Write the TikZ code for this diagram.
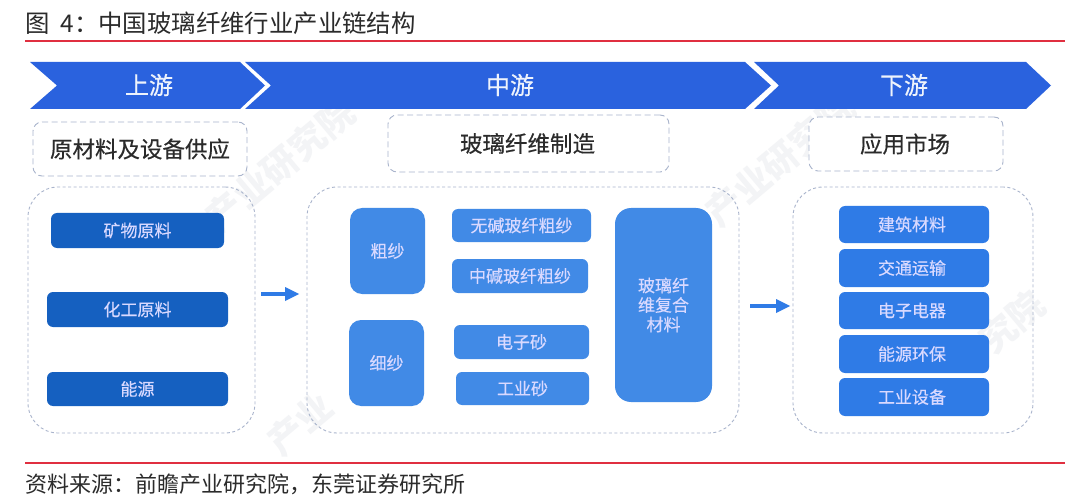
\documentclass[tikz,border=0pt]{standalone}
\usepackage{fontspec}
\usetikzlibrary{arrows.meta}
\newfontfamily\cjk{Noto Sans CJK SC}
\newfontfamily\cjkm[FakeBold=0.35]{Noto Sans CJK SC}
\definecolor{band}{HTML}{2A62DE}
\definecolor{upbox}{HTML}{1560C0}
\definecolor{midbox}{HTML}{418AE6}
\definecolor{rightbox}{HTML}{2F7BE6}
\definecolor{dashc}{HTML}{A9B4CC}
\definecolor{rulecol}{HTML}{E02F40}
\definecolor{ink}{HTML}{2B2B2B}
\definecolor{wmcol}{HTML}{F3F4F6}
\tikzset{
  x=1pt,y=-1pt,
  bandshape/.style={fill=band,draw=none},
  bandlabel/.style={font=\cjkm\fontsize{24}{24}\selectfont,text=white!92!band,inner sep=0},
  headbox/.style={draw=dashc,line width=.9pt,dash pattern=on 6pt off 3.5pt,rounded corners=9pt,fill=white,inner sep=0,outer sep=0,font=\cjkm\fontsize{22.5}{22.5}\selectfont,text=ink},
  bigbox/.style={draw=dashc,line width=.9pt,dash pattern=on 3pt off 2.5pt,rounded corners=30pt,inner sep=0,outer sep=0},
  itembox/.style={rounded corners=6pt,inner sep=0,outer sep=0,font=\cjkm\fontsize{17}{19.5}\selectfont,text=white!85!blue},
  upitem/.style={itembox,fill=upbox},
  miditem/.style={itembox,fill=midbox},
  rightitem/.style={itembox,fill=rightbox},
  flowline/.style={draw=rightbox,line width=3.4pt,shorten >=8pt},
  flowhead/.style={fill=rightbox,draw=none},
  rulerline/.style={draw=rulecol,line width=1.1pt},
  plain/.style={inner sep=0,anchor=west,text=ink},
  wmark/.style={inner sep=0,text=wmcol,font=\cjk\bfseries\fontsize{36}{36}\selectfont,rotate=40},
}
% box helper: name, x0, y0, x1, y1, style, text
\newcommand{\pbox}[7]{\node[#6,minimum width=#4pt-#2pt,minimum height=#5pt-#3pt] (#1) at ({(#2+#4)/2},{(#3+#5)/2}) {#7};}
\newcommand{\dn}[1]{\raisebox{-2.3pt}{#1}}
\begin{document}
\begin{tikzpicture}
\useasboundingbox (0,0) rectangle (1080,500);
\fill[white] (0,0) rectangle (1080,500);
% watermarks
\node[wmark] (wa) at (280,165) {产业研究院};
\node[wmark] (wb) at (780,160) {产业研究院};
\node[wmark] (wc) at (300,424) {产业};
\node[wmark] (wd) at (1012,322) {究院};
% title
\node[plain,font=\cjk\fontsize{24.4}{24.4}\selectfont] (title) at (25,23) {图\hspace{11pt}4：中国玻璃纤维行业产业链结构};
\coordinate (r1a) at (25,41); \coordinate (r1b) at (1065,41);
\draw[rulerline] (r1a) -- (r1b);
% chevrons
\fill[bandshape] (30,62) -- (240,62) -- (265,85.5) -- (240,109) -- (30,109) -- (57,85.5) -- cycle;
\fill[bandshape] (245,62) -- (745,62) -- (771,85.5) -- (745,109) -- (245,109) -- (271,85.5) -- cycle;
\fill[bandshape] (754,62) -- (1026,62) -- (1051,85.5) -- (1026,109) -- (754,109) -- (779,85.5) -- cycle;
\node[bandlabel] (l1) at (149,85) {上游};
\node[bandlabel] (l2) at (510,85) {中游};
\node[bandlabel] (l3) at (904,85) {下游};
% headers
\pbox{h1}{33}{122}{247}{176}{headbox}{原材料及设备供应}
\pbox{h2}{388}{115}{669}{172}{headbox}{\hspace*{-2pt}玻璃纤维制造}
\pbox{h3}{809}{117}{1003}{171}{headbox}{\hspace*{-2pt}应用市场}
% groups
\pbox{g1}{28}{187}{255}{433}{bigbox}{}
\pbox{g2}{307}{187}{739}{433}{bigbox}{}
\pbox{g3}{793}{187}{1033}{433}{bigbox}{}
% upstream
\pbox{a1}{51}{213}{224}{248}{upitem}{\dn{矿物原料}}
\pbox{a2}{47}{292}{228}{327}{upitem}{\dn{化工原料}}
\pbox{a3}{47}{372}{228}{406}{upitem}{\dn{能源}}
% midstream
\pbox{b1}{350}{208}{425}{294}{miditem,rounded corners=12pt}{\dn{粗纱}}
\pbox{b2}{349}{320}{424}{406}{miditem,rounded corners=12pt}{\dn{细纱}}
\pbox{c1}{452}{209}{591}{242}{miditem}{\dn{无碱玻纤粗纱}}
\pbox{c2}{452}{259}{588}{293}{miditem}{\dn{中碱玻纤粗纱}}
\pbox{c3}{454}{325}{589}{359}{miditem}{\dn{电子砂}}
\pbox{c4}{456}{372}{589}{405}{miditem}{\dn{工业砂}}
\pbox{d}{615}{208}{712}{402}{miditem,rounded corners=16pt}{\raisebox{-3pt}{\parbox{60pt}{\centering 玻璃纤\\维复合\\材料}}}
% downstream
\pbox{e1}{839}{206}{989}{243}{rightitem}{\dn{\hspace*{-4pt}建筑材料}}
\pbox{e2}{839}{249}{989}{287}{rightitem}{\dn{\hspace*{-4pt}交通运输}}
\pbox{e3}{839}{292}{989}{329}{rightitem}{\dn{\hspace*{-4pt}电子电器}}
\pbox{e4}{839}{335}{989}{373}{rightitem}{\dn{\hspace*{-4pt}能源环保}}
\pbox{e5}{839}{378}{989}{416}{rightitem}{\dn{\hspace*{-4pt}工业设备}}
% flows
\coordinate (f1a) at (261,294); \coordinate (f1b) at (299,294);
\coordinate (f2a) at (750,306); \coordinate (f2b) at (790,306);
\draw[flowline] (f1a) -- (f1b);
\fill[flowhead] (f1b) -- ++(-14,-7) -- ++(0,14) -- cycle;
\draw[flowline] (f2a) -- (f2b);
\fill[flowhead] (f2b) -- ++(-14,-7) -- ++(0,14) -- cycle;
% footer
\coordinate (r2a) at (25,463); \coordinate (r2b) at (1065,463);
\draw[rulerline] (r2a) -- (r2b);
\node[plain,font=\cjk\fontsize{22}{22}\selectfont] (src) at (25,484) {资料来源：前瞻产业研究院，东莞证券研究所};
\end{tikzpicture}
\end{document}
